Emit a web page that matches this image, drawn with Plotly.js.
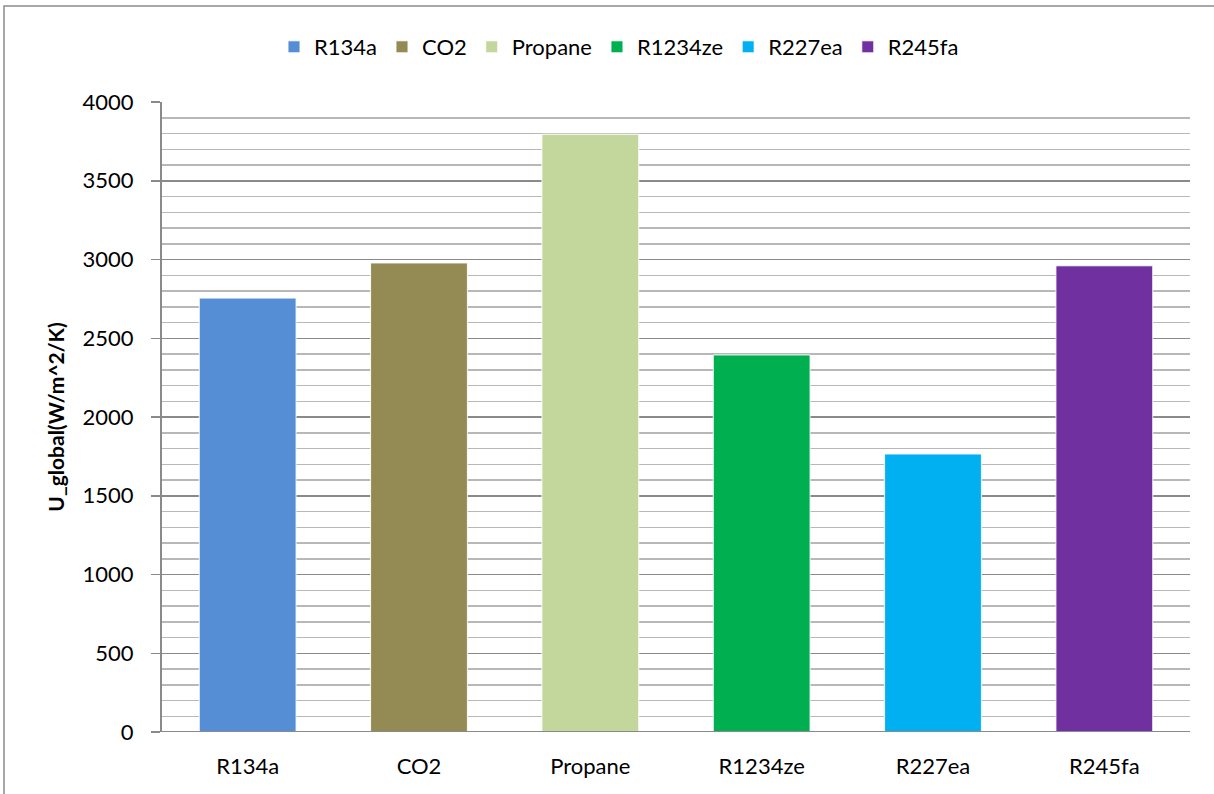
<!DOCTYPE html>
<html>
<head>
<meta charset="utf-8">
<script src="https://cdn.plot.ly/plotly-3.0.1.min.js"></script>
<style>
html,body{margin:0;padding:0;background:#fff;}
#chart{width:1214px;height:794px;}
</style>
</head>
<body>
<div id="chart"></div>
<script>
const categories = ["R134a", "CO2", "Propane", "R1234ze", "R227ea", "R245fa"];
const values = [2755, 2978, 3795, 2394, 1765, 2960];
const colors = ["#558ED5", "#948A54", "#C3D69B", "#00B050", "#00B0F0", "#7030A0"];
const yTitle = "U_global(W/m^2/K)";

const traces = categories.map((c, i) => ({
  type: "bar",
  name: c,
  x: [c],
  y: [values[i]],
  width: 0.565,
  marker: { color: colors[i], line: { color: "rgba(255,255,255,0.9)", width: 1 } },
  hoverinfo: "x+y"
}));

const W = 1214, H = 794;
const m = { l: 162, r: 24, t: 102, b: 62 };
const pw = W - m.l - m.r, ph = H - m.t - m.b;
const px = (x) => (x - m.l) / pw;
const py = (y) => (H - m.b - y) / ph;

const layout = {
  width: W, height: H,
  margin: m,
  paper_bgcolor: "#ffffff",
  plot_bgcolor: "#ffffff",
  font: { family: "Lato, 'Open Sans', sans-serif", size: 22, color: "#000" },
  barmode: "overlay",
  showlegend: true,
  legend: {
    orientation: "h",
    x: px(619), xanchor: "center",
    y: py(47), yanchor: "middle",
    font: { size: 22, family: "Lato, sans-serif" },
    itemwidth: 30,
    traceorder: "normal"
  },
  xaxis: {
    type: "category",
    categoryorder: "array",
    categoryarray: categories,
    showgrid: false,
    ticks: "",
    showline: false,
    zeroline: false,
    tickfont: { size: 22 },
    ticklabelstandoff: 19
  },
  yaxis: {
    range: [0, 4000],
    dtick: 500,
    tick0: 0,
    showgrid: true,
    gridcolor: "#8a8a8a",
    gridwidth: 1.5,
    zeroline: false,
    showline: true,
    linecolor: "#8a8a8a",
    linewidth: 2,
    ticks: "outside",
    ticklen: 9,
    tickwidth: 1.5,
    tickcolor: "#8a8a8a",
    tickfont: { size: 22 },
    ticklabelstandoff: 13,
    minor: { dtick: 100, showgrid: true, gridcolor: "#b8b8b8", gridwidth: 1.5, ticks: "" },
    title: { text: "<b>" + yTitle + "</b>", font: { size: 21 }, standoff: 12 }
  },
  shapes: [
    { type: "line", xref: "paper", yref: "y", x0: 0, x1: 1, y0: 0, y1: 0,
      line: { color: "#8a8a8a", width: 2 } },
    { type: "rect", xref: "paper", yref: "paper",
      x0: px(4), x1: px(1222), y0: py(802), y1: py(6),
      line: { color: "#8c8c8c", width: 1.5 }, fillcolor: "rgba(0,0,0,0)", layer: "below" }
  ]
};

Plotly.newPlot("chart", traces, layout, { displayModeBar: false, staticPlot: true });
</script>
</body>
</html>
